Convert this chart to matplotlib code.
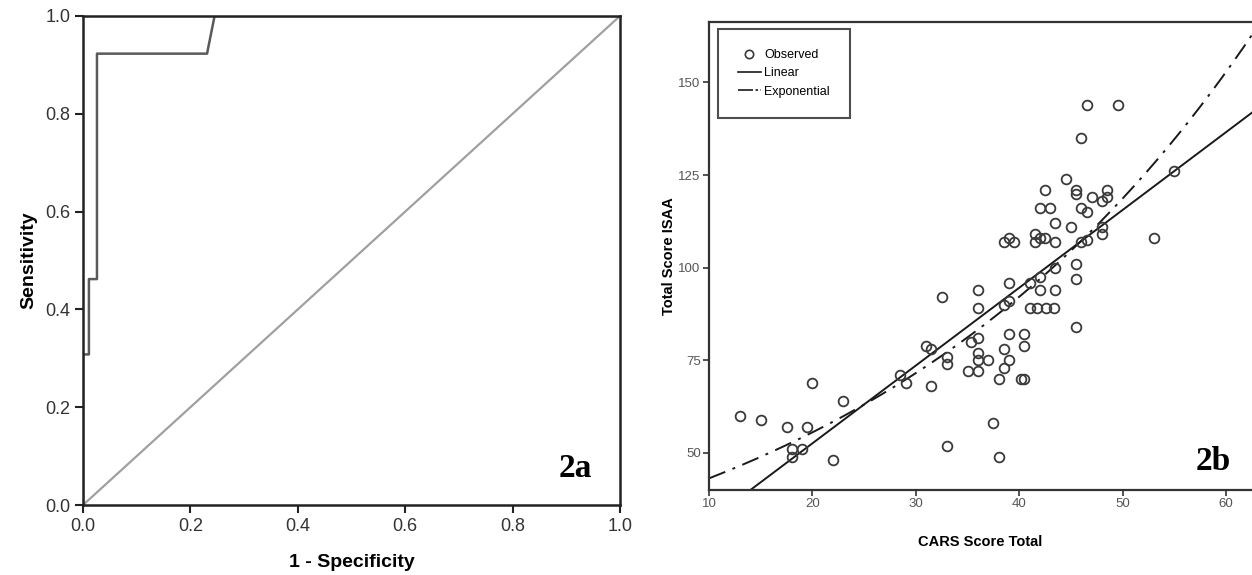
import numpy as np
import matplotlib
matplotlib.use("Agg")
import matplotlib.pyplot as plt
from matplotlib.lines import Line2D

plt.rcParams['font.family'] = ['Liberation Sans', 'DejaVu Sans']

# ROC curve (panel 2a)
fpr = [0.0, 0.0, 0.011, 0.011, 0.026, 0.026, 0.231, 0.245, 1.0]
tpr = [0.0, 0.308, 0.308, 0.462, 0.462, 0.923, 0.923, 1.0, 1.0]
roc_ticks = [0.0, 0.2, 0.4, 0.6, 0.8, 1.0]

# scatter (panel 2b): CARS total vs ISAA total
cars = [13, 15, 17.5, 19.5, 18, 19, 18, 20, 22, 23, 28.5, 29, 31, 31.5, 31.5,
        32.5, 33, 33, 33, 35.3, 36, 36, 36, 36, 36, 37, 35, 36, 37.5, 38, 38,
        38.5, 38.5, 39, 39, 40.5, 40.5, 40.2, 40.5, 38.5, 39, 39, 38.5, 39,
        39.5, 41, 42, 42, 43.5, 41, 41.7, 42.6, 43.4, 43.5, 45.5, 45.5, 45.5,
        41.5, 41.5, 42, 42.5, 43.5, 46, 46.5, 48, 48, 45, 43.5, 42, 43, 46,
        46.5, 48, 47, 48.5, 48.5, 45.5, 45.5, 42.5, 44.5, 46, 46.5, 49.5, 55,
        53]
isaa = [60, 59, 57, 57, 51, 51, 49, 69, 48, 64, 71, 69, 79, 78, 68,
        92, 76, 74, 52, 80, 81, 94, 89, 77, 75, 75, 72, 72, 58, 49, 70,
        78, 73, 75, 82, 82, 79, 70, 70, 90, 91, 96, 107, 108,
        107, 96, 97.5, 94, 94, 89, 89, 89, 89, 100, 101, 97, 84,
        109, 107, 108, 108, 107, 107, 107.5, 109, 111, 111, 112, 116, 116, 116,
        115, 118, 119, 119, 121, 121, 120, 121, 124, 135, 144, 144, 126,
        108]

# fitted curves
lin_b0, lin_b1 = 10.6, 2.1
exp_a, exp_b = 33.5, 0.0253

fig = plt.figure(figsize=(12.52, 5.75), dpi=100)

# ---- panel 2a ----
ax1 = fig.add_axes([0.0663, 0.1217, 0.4289, 0.8505])
ax1.plot([0, 1], [0, 1], color='#a0a0a0', lw=1.6)
ax1.plot(fpr, tpr, color='#5a5a5a', lw=1.8)
ax1.set_xlim(0, 1)
ax1.set_ylim(0, 1)
ax1.set_xticks(roc_ticks)
ax1.set_yticks(roc_ticks)
ax1.set_xticklabels([f'{t:.1f}' for t in roc_ticks])
ax1.set_yticklabels([f'{t:.1f}' for t in roc_ticks])
ax1.tick_params(direction='out', length=6, width=1.5, labelsize=13,
                labelcolor='#333333', color='#222222', pad=3)
for s in ax1.spines.values():
    s.set_linewidth(1.8)
    s.set_color('#222222')
ax1.set_xlabel('1 - Specificity', fontsize=14, fontweight='bold', labelpad=14)
ax1.set_ylabel('Sensitivity', fontsize=14, fontweight='bold', labelpad=6)
ax1.text(0.916, 0.075, '2a', transform=ax1.transAxes, ha='center', va='center',
         fontsize=24, fontweight='bold', family=['Liberation Serif', 'DejaVu Serif'])

# ---- panel 2b ----
ax2 = fig.add_axes([0.5663, 0.1478, 0.4337, 0.8139])
xs = np.linspace(10, 62.5, 300)
ax2.plot(xs, lin_b0 + lin_b1 * xs, color='#1a1a1a', lw=1.4)
ax2.plot(xs, exp_a * np.exp(exp_b * xs), color='#1a1a1a', lw=1.4,
         dashes=(9, 4, 1.5, 4))
ax2.plot(cars, isaa, 'o', mfc='none', mec='#3a3a3a', mew=1.3, ms=7)
ax2.set_xlim(10, 62.5)
ax2.set_ylim(40, 166.3)
ax2.set_xticks([10, 20, 30, 40, 50, 60])
ax2.set_yticks([50, 75, 100, 125, 150])
ax2.tick_params(direction='out', length=4, width=1.2, labelsize=9.5,
                labelcolor='#555555', color='#333333', pad=2)
ax2.spines['right'].set_visible(False)
for s in ['left', 'top', 'bottom']:
    ax2.spines[s].set_linewidth(1.6)
    ax2.spines[s].set_color('#333333')
ax2.set_xlabel('CARS Score Total', fontsize=10.5, fontweight='bold', labelpad=18)
ax2.set_ylabel('Total Score ISAA', fontsize=10.5, fontweight='bold', labelpad=2)
ax2.text(0.928, 0.06, '2b', transform=ax2.transAxes, ha='center', va='center',
         fontsize=24, fontweight='bold', family=['Liberation Serif', 'DejaVu Serif'])

handles = [Line2D([], [], ls='none', marker='o', mfc='none', mec='#3a3a3a', mew=1.2, ms=6),
           Line2D([], [], color='#1a1a1a', lw=1.2),
           Line2D([], [], color='#1a1a1a', lw=1.2, dashes=(9, 1.5, 1.5, 1.5))]
leg = ax2.legend(handles, ['Observed', 'Linear', 'Exponential'], loc='upper left',
                 bbox_to_anchor=(0.017, 0.985), fontsize=9, frameon=True,
                 fancybox=False, handlelength=1.8, handletextpad=0.3,
                 borderpad=1.6, labelspacing=0.5, borderaxespad=0)
leg.get_frame().set_edgecolor('#222222')
leg.get_frame().set_linewidth(1.5)

fig.savefig('out.png', dpi=100)
